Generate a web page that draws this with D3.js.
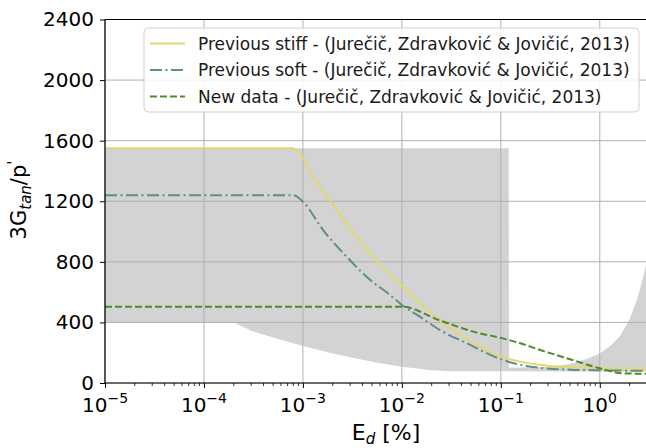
<!DOCTYPE html>
<html>
<head>
<meta charset="utf-8">
<script src="https://cdn.jsdelivr.net/npm/d3@7"></script>
<style>
  body { margin: 0; background: #fff; }
  svg { font-family: "DejaVu Sans", sans-serif; }
</style>
</head>
<body>
<svg id="chart" width="646" height="448"></svg>
<script>
// gray band (range of data), upper edge left->right, lower edge left->right
var bandUpperX = [1e-5, 0.12, 0.121, 0.3, 0.5, 0.75, 1, 1.3, 1.6, 2, 2.4, 2.8, 3.2],
    bandUpperY = [1550, 1550, 100, 105, 125, 160, 195, 250, 310, 420, 560, 720, 900],
    bandLowerX = [1e-5, 2e-4, 3e-4, 5e-4, 1e-3, 2e-3, 5e-3, 1e-2, 2e-2, 3e-2, 3.2],
    bandLowerY = [400, 400, 345, 300, 245, 195, 140, 108, 85, 78, 75];

// Previous stiff
var stiffX = [1e-5, 7.9e-4, 1e-3, 1.27e-3, 1.87e-3, 2.76e-3, 4.07e-3, 6e-3, 1e-2, 1.52e-2, 2.25e-2, 3.3e-2, 6.1e-2, 0.1, 0.157, 0.25, 0.5, 1, 3.2],
    stiffY = [1550, 1550, 1485, 1362, 1208, 1054, 911, 790, 645, 530, 427, 350, 240, 174, 141, 119, 104, 98, 96];

// Previous soft
var softX = [1e-5, 8e-4, 1e-3, 1.6e-3, 2.76e-3, 4.8e-3, 7.6e-3, 1e-2, 1.52e-2, 2.42e-2, 4.55e-2, 8.6e-2, 0.135, 0.25, 0.5, 1, 3.2],
    softY = [1240, 1240, 1197, 1010, 834, 680, 581, 515, 438, 350, 262, 174, 130, 100, 88, 84, 80];

// New data
var newX = [1e-5, 1e-2, 2.42e-2, 6.1e-2, 0.1, 0.157, 0.25, 0.53, 1, 1.7, 3.2],
    newY = [504, 504, 413, 328, 298, 262, 218, 152, 97, 64, 60];

var yTicks = [0, 400, 800, 1200, 1600, 2000, 2400],
    xTicks = [1e-5, 1e-4, 1e-3, 1e-2, 1e-1, 1],
    xTickExp = ["\u22125", "\u22124", "\u22123", "\u22122", "\u22121", "0"];

var legendLabels = [
  "Previous stiff - (Jurečič, Zdravković & Jovičić, 2013)",
  "Previous soft - (Jurečič, Zdravković & Jovičić, 2013)",
  "New data - (Jurečič, Zdravković & Jovičić, 2013)"
];

var svg = d3.select("#chart"),
    pLeft = 105, pRight = 647, pTop = 19.5, pBottom = 383,
    x = d3.scaleLog().domain([1e-5, 3]).range([pLeft, pRight]),
    y = d3.scaleLinear().domain([0, 2400]).range([pBottom, pTop]),
    gridColor = "#b0b0b0";

svg.append("defs").append("clipPath").attr("id", "clip")
  .append("rect").attr("x", pLeft).attr("y", pTop)
  .attr("width", pRight - pLeft).attr("height", pBottom - pTop);

// band
var bandPts = bandUpperX.map(function(d, i) { return [x(d), y(bandUpperY[i])]; })
  .concat(bandLowerX.map(function(d, i) { return [x(d), y(bandLowerY[i])]; }).reverse());
svg.append("path")
  .attr("clip-path", "url(#clip)")
  .attr("d", d3.line()(bandPts) + "Z")
  .attr("fill", "#d3d3d3");

// grid
var grid = svg.append("g");
yTicks.forEach(function(t) {
  grid.append("line").attr("x1", pLeft).attr("x2", pRight)
    .attr("y1", y(t)).attr("y2", y(t))
    .attr("stroke", gridColor).attr("stroke-width", 1);
});
xTicks.forEach(function(t) {
  grid.append("line").attr("x1", x(t)).attr("x2", x(t))
    .attr("y1", pTop).attr("y2", pBottom)
    .attr("stroke", gridColor).attr("stroke-width", 1);
});

// lines
var line = d3.line().curve(d3.curveMonotoneX);
function drawSeries(xs, ys, color, dash) {
  svg.append("path")
    .attr("clip-path", "url(#clip)")
    .attr("d", line(xs.map(function(d, i) { return [x(d), y(ys[i])]; })))
    .attr("fill", "none")
    .attr("stroke", color)
    .attr("stroke-width", 2)
    .attr("stroke-dasharray", dash);
}
var colors = ["#e2d870", "#5f8c8e", "#4f8a2a"],
    dashes = [null, "12,3.5,2,3.5", "7,3"];
drawSeries(stiffX, stiffY, colors[0], dashes[0]);
drawSeries(softX, softY, colors[1], dashes[1]);
drawSeries(newX, newY, colors[2], dashes[2]);

// axes
var xAxis = d3.axisBottom(x).tickValues(xTicks).tickSize(5).tickFormat("");
var gx = svg.append("g").attr("transform", "translate(0," + pBottom + ")").call(xAxis);
gx.select(".domain").remove();
var minors = [];
for (var e = -5; e <= 0; e++) {
  for (var m = 2; m <= 9; m++) {
    var v = m * Math.pow(10, e);
    if (v <= 3) minors.push(v);
  }
}
gx.selectAll(".minor").data(minors).enter().append("line")
  .attr("x1", function(d) { return x(d); }).attr("x2", function(d) { return x(d); })
  .attr("y1", 0).attr("y2", 3).attr("stroke", "#000").attr("stroke-width", 0.8);
gx.selectAll(".tick line").attr("stroke-width", 1);

var xl = svg.append("g");
xTicks.forEach(function(t, i) {
  var tx = xl.append("text").attr("x", x(t)).attr("y", 412)
    .attr("text-anchor", "middle").attr("font-size", 20).attr("fill", "#000");
  tx.append("tspan").text("10");
  tx.append("tspan").attr("dy", -9).attr("font-size", 14).text(xTickExp[i]);
});

var yAxis = d3.axisLeft(y).tickValues(yTicks).tickSize(5).tickPadding(6)
  .tickFormat(d3.format("d"));
var gy = svg.append("g").attr("transform", "translate(" + pLeft + ",0)").call(yAxis);
gy.select(".domain").remove();
gy.selectAll("text").attr("font-size", 20).attr("fill", "#000")
  .attr("font-family", "DejaVu Sans");

// spines
svg.append("line").attr("x1", pLeft).attr("x2", pLeft).attr("y1", pTop).attr("y2", pBottom)
  .attr("stroke", "#000").attr("stroke-width", 1.2);
svg.append("line").attr("x1", pLeft).attr("x2", pRight).attr("y1", pBottom).attr("y2", pBottom)
  .attr("stroke", "#000").attr("stroke-width", 1.2);
svg.append("line").attr("x1", pLeft).attr("x2", pRight).attr("y1", pTop).attr("y2", pTop)
  .attr("stroke", "#000").attr("stroke-width", 1.2);

// axis labels
var xt = svg.append("text").attr("x", 386).attr("y", 440)
  .attr("text-anchor", "middle").attr("font-size", 22);
xt.append("tspan").text("E");
xt.append("tspan").attr("dy", 4).attr("font-size", 15).attr("font-style", "italic").text("d");
xt.append("tspan").attr("dy", -4).text(" [%]");

var yt = svg.append("text").attr("transform", "translate(26,200) rotate(-90)")
  .attr("text-anchor", "middle").attr("font-size", 21);
yt.append("tspan").text("3G");
yt.append("tspan").attr("dy", 5).attr("font-size", 15).attr("font-style", "italic").text("tan");
yt.append("tspan").attr("dy", -5).text("/p");
yt.append("tspan").attr("dy", -7).attr("font-size", 15).text("'");

// legend
var lg = svg.append("g");
lg.append("rect").attr("x", 144).attr("y", 28).attr("width", 495).attr("height", 84)
  .attr("rx", 4).attr("fill", "#fff").attr("fill-opacity", 0.85)
  .attr("stroke", "#d0d0d0").attr("stroke-width", 1);
legendLabels.forEach(function(lab, i) {
  var ly = 43.5 + i * 26.5;
  lg.append("line").attr("x1", 150).attr("x2", 185).attr("y1", ly).attr("y2", ly)
    .attr("stroke", colors[i]).attr("stroke-width", 2).attr("stroke-dasharray", dashes[i]);
  lg.append("text").attr("x", 198).attr("y", ly + 6).attr("font-size", 17)
    .attr("fill", "#1a1a1a").text(lab);
});
</script>
</body>
</html>
